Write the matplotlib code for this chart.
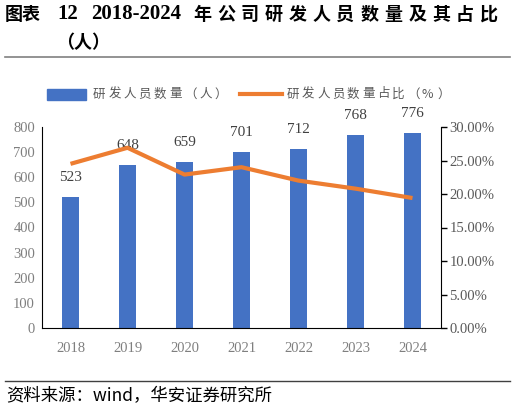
import matplotlib
matplotlib.use('Agg')
import matplotlib.pyplot as plt
from matplotlib.patches import Rectangle
from matplotlib.lines import Line2D

years = ['2018', '2019', '2020', '2021', '2022', '2023', '2024']
staff = [523, 648, 659, 701, 712, 768, 776]
ratio = [24.5, 26.9, 22.9, 24.0, 22.0, 20.8, 19.4]

serif = ['Liberation Serif', 'Noto Sans CJK SC']
cjk = ['Noto Sans CJK SC', 'DejaVu Sans']
bar_c = '#4472C4'
line_c = '#ED7D31'
tick_c = '#7F7F7F'

W, H = 519, 409
fig = plt.figure(figsize=(W / 100, H / 100), dpi=100)


def px(x, y):
    return x / W, 1 - y / H


def spaced(x0, y, s, step, **kw):
    # chinese text with wide letter spacing, as in the report
    for i, ch in enumerate(s):
        fig.text(*px(x0 + i * step, y), ch, va='center', ha='left', **kw)


# title
fig.text(*px(5, 14), '图表', family=cjk, fontsize=13, fontweight='bold', va='center')
fig.text(*px(57, 14), '12', family=serif, fontsize=15, fontweight='bold', va='center')
fig.text(*px(91, 14), '2018-2024', family=serif, fontsize=15, fontweight='bold', va='center')
spaced(193, 14, '年公司研发人员数量及其占比', 23.9, family=cjk, fontsize=13,
       fontweight='bold')
fig.text(*px(56, 43), '（人）', family=cjk, fontsize=13, fontweight='bold',
         va='center', ha='left')
fig.add_artist(Line2D([5 / W, 510 / W], [1 - 57 / H] * 2, color='#808080', lw=1.2))

# legend
fig.add_artist(Rectangle(px(47, 100), 39 / W, 11 / H, color=bar_c))
spaced(93, 94, '研发人员数量（人）', 15.2, family=cjk, fontsize=9, color='#595959')
fig.add_artist(Line2D([240 / W, 282 / W], [1 - 94 / H] * 2, color=line_c, lw=3))
spaced(287, 94, '研发人员数量占比（%）', 15.0, family=cjk, fontsize=9, color='#595959')

ax = fig.add_axes([42 / W, 1 - 328 / H, 399 / W, 201 / H])
x = range(len(years))
ax.bar(x, staff, width=0.3, color=bar_c, zorder=2)
ax.set_ylim(0, 800)
ax.set_xlim(-0.5, len(years) - 0.5)
ax.set_yticks(range(0, 801, 100))
ax.set_xticks(list(x))
ax.set_xticklabels(years)
for i, v in enumerate(staff):
    ax.annotate(str(v), (i, v), xytext=(0, 14), textcoords='offset points',
                ha='center', va='center', family=serif, fontsize=11, color='#404040')
ax.tick_params(axis='y', length=0, pad=5, labelsize=10.5, labelcolor=tick_c)
ax.tick_params(axis='x', length=0, pad=10, labelsize=10.5, labelcolor=tick_c)
for lab in ax.get_xticklabels() + ax.get_yticklabels():
    lab.set_family(serif)
for s in ['top', 'right']:
    ax.spines[s].set_visible(False)
ax.spines['left'].set_color('black')
ax.spines['bottom'].set_color('black')

ax2 = ax.twinx()
ax2.plot(list(x), ratio, color=line_c, lw=3, zorder=3, solid_capstyle='butt')
ax2.set_ylim(0, 30)
ax2.set_yticks(range(0, 31, 5))
ax2.set_yticklabels([f'{v:.2f}%' for v in range(0, 31, 5)])
ax2.tick_params(axis='y', length=4, width=1, direction='out', pad=2,
                labelsize=10.5, labelcolor='#595959')
for lab in ax2.get_yticklabels():
    lab.set_family(serif)
for s in ['top', 'left', 'bottom']:
    ax2.spines[s].set_visible(False)
ax2.spines['right'].set_color('black')

# source
fig.add_artist(Line2D([5 / W, 510 / W], [1 - 381 / H] * 2, color='#404040', lw=1))
fig.text(*px(6, 396), '资料来源：wind，华安证券研究所', family=cjk, fontsize=12.5,
         va='center', ha='left')

fig.savefig('out.png', dpi=100)
